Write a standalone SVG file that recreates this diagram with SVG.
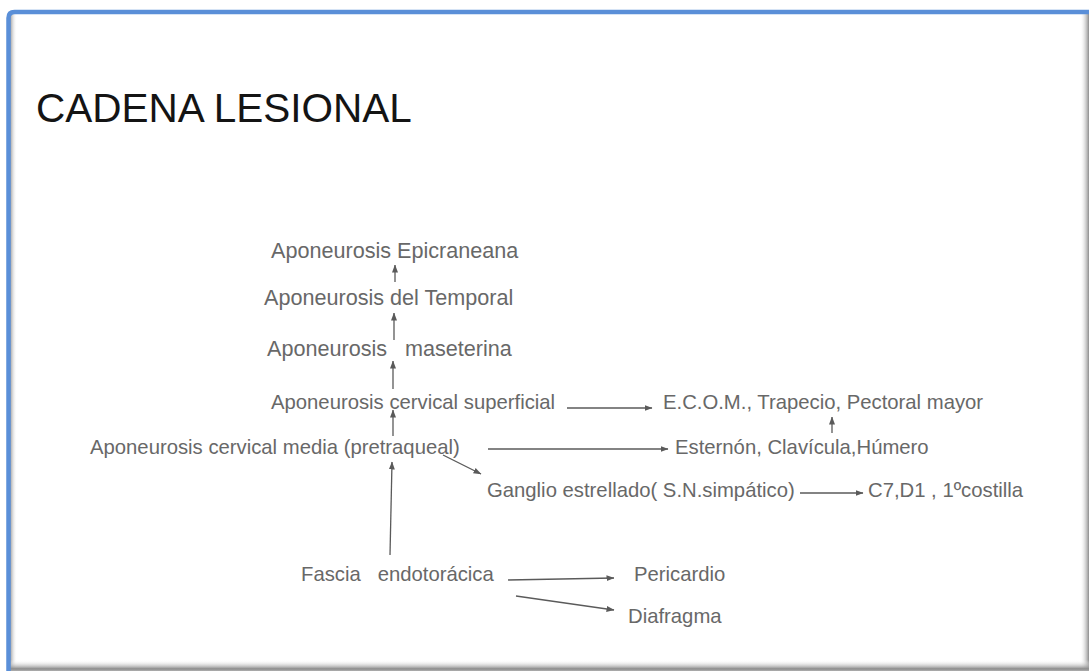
<svg xmlns="http://www.w3.org/2000/svg" width="1089" height="671" viewBox="0 0 1089 671">
  <defs>
    <style>
      .t { font-family: "Liberation Sans", Arial, sans-serif; font-size: 20.3px; fill: #686868; white-space: pre; }
      .big { font-size: 21.6px; }
      .title { font-family: "Liberation Sans", Arial, sans-serif; font-size: 40.5px; fill: #141414; }
      .c { stroke: #5a5a5a; stroke-width: 1.3; fill: none; marker-end: url(#ah); }
    </style>
    <marker id="ah" viewBox="0 0 8 6" refX="7.5" refY="3" markerWidth="8" markerHeight="6" markerUnits="userSpaceOnUse" orient="auto">
      <path d="M0,0 L8,3 L0,6 Z" fill="#5a5a5a"/>
    </marker>
    <linearGradient id="shL" x1="0" y1="0" x2="1" y2="0">
      <stop offset="0" stop-color="#9a9a9a"/>
      <stop offset="1" stop-color="#ffffff" stop-opacity="0"/>
    </linearGradient>
    <linearGradient id="shR" x1="0" y1="0" x2="1" y2="0">
      <stop offset="0" stop-color="#ffffff" stop-opacity="0"/>
      <stop offset="1" stop-color="#8c8c8c"/>
    </linearGradient>
    <linearGradient id="shB" x1="0" y1="0" x2="0" y2="1">
      <stop offset="0" stop-color="#ffffff" stop-opacity="0"/>
      <stop offset="0.8" stop-color="#8c8c8c"/>
      <stop offset="1" stop-color="#b0b0b0"/>
    </linearGradient>
  </defs>

  <!-- slide frame -->
  <rect x="0" y="0" width="1089" height="671" fill="#ffffff"/>
  <rect x="10" y="14" width="7" height="657" fill="url(#shL)"/>
  <rect x="1080" y="14" width="9" height="657" fill="url(#shR)"/>
  <rect x="10" y="660" width="1079" height="11" fill="url(#shB)"/>
  <path d="M8.5,671 L8.5,18 Q8.5,12 14.5,12 L1089,12" fill="none" stroke="#5a8fd8" stroke-width="4.5"/>

  <text class="title" x="36" y="121.5">CADENA LESIONAL</text>

  <!-- connectors -->
  <g id="connectors">
    <line class="c" x1="395" y1="282" x2="395" y2="265"/>
    <line class="c" x1="394" y1="340" x2="394" y2="313"/>
    <line class="c" x1="393" y1="389" x2="393" y2="361"/>
    <line class="c" x1="393" y1="436" x2="393" y2="410"/>
    <line class="c" x1="390" y1="555" x2="392" y2="462"/>
    <line class="c" x1="443" y1="455" x2="481" y2="474"/>
    <line class="c" x1="567" y1="408" x2="652" y2="408"/>
    <line class="c" x1="488" y1="449" x2="668" y2="449"/>
    <line class="c" x1="832" y1="433" x2="832" y2="417"/>
    <line class="c" x1="800" y1="493" x2="863" y2="493"/>
    <line class="c" x1="508" y1="580" x2="614" y2="578"/>
    <line class="c" x1="516" y1="596" x2="614" y2="610"/>
  </g>

  <!-- nodes -->
  <g id="n-epicraneana"><text class="t big" x="271" y="257.5">Aponeurosis Epicraneana</text></g>
  <g id="n-temporal"><text class="t big" x="264" y="304.5">Aponeurosis del Temporal</text></g>
  <g id="n-maseterina"><text class="t big" x="267" y="355.5">Aponeurosis   maseterina</text></g>
  <g id="n-cervical-superficial"><text class="t" x="271" y="408.5">Aponeurosis cervical superficial</text></g>
  <g id="n-cervical-media"><text class="t" x="90" y="453.5">Aponeurosis cervical media (pretraqueal)</text></g>
  <g id="n-ecom"><text class="t" x="663" y="408.5">E.C.O.M., Trapecio, Pectoral mayor</text></g>
  <g id="n-esternon"><text class="t" x="675" y="453.5">Esternón, Clavícula,Húmero</text></g>
  <g id="n-ganglio"><text class="t" x="487" y="496.5">Ganglio estrellado( S.N.simpático)</text></g>
  <g id="n-c7"><text class="t" x="868" y="496.5">C7,D1 , 1ºcostilla</text></g>
  <g id="n-fascia"><text class="t" x="301" y="580.5">Fascia   endotorácica</text></g>
  <g id="n-pericardio"><text class="t" x="634" y="580.5">Pericardio</text></g>
  <g id="n-diafragma"><text class="t" x="628" y="622.5">Diafragma</text></g>
</svg>
